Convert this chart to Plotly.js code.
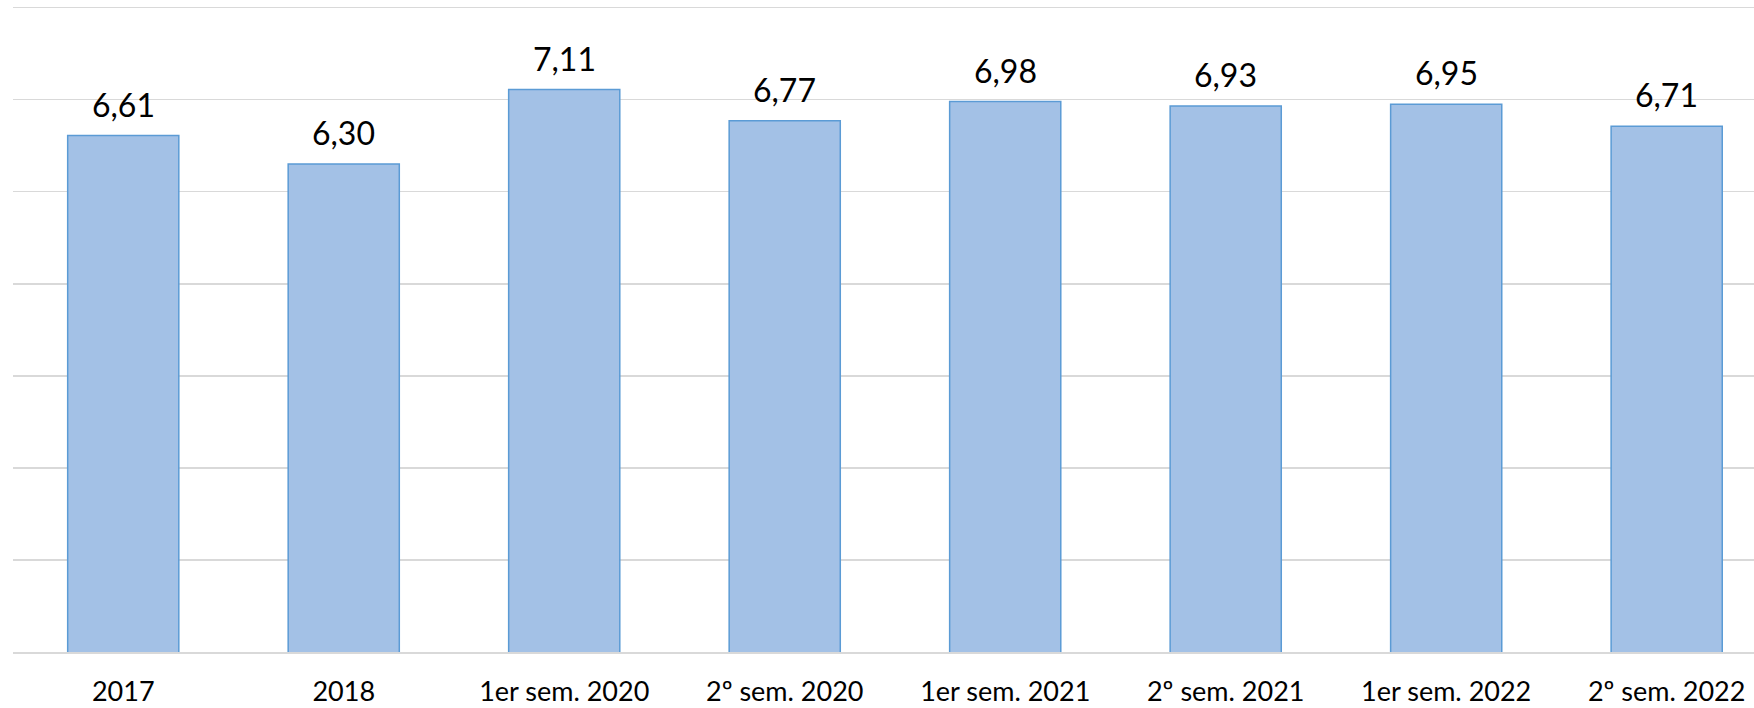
<!DOCTYPE html>
<html>
<head>
<meta charset="utf-8">
<script src="https://cdn.plot.ly/plotly-3.0.1.min.js"></script>
<style>
html,body{margin:0;padding:0;background:#fff;overflow:hidden;}
#chart{width:1754px;height:708px;}
</style>
</head>
<body>
<div id="chart"></div>
<script>
const categories = ["2017", "2018", "1er sem. 2020", "2º sem. 2020", "1er sem. 2021", "2º sem. 2021", "1er sem. 2022", "2º sem. 2022"];
const values = [6.61, 6.30, 7.11, 6.77, 6.98, 6.93, 6.95, 6.71];
const valueLabels = values.map(v => v.toFixed(2).replace('.', ','));

const trace = {
  type: 'bar',
  x: categories,
  y: values,
  marker: {
    color: '#A3C1E6',
    line: {color: '#5B9BD5', width: 1.5}
  },
  hoverinfo: 'skip'
};

const annotations = categories.map((c, i) => ({
  x: i, y: values[i], xref: 'x', yref: 'y',
  text: valueLabels[i], showarrow: false,
  yanchor: 'bottom', yshift: 10,
  font: {family: 'Lato, sans-serif', size: 32, color: '#000'}
}));

const layout = {
  width: 1754, height: 708,
  margin: {l: 13, r: 0, t: 3, b: 56},
  paper_bgcolor: '#fff', plot_bgcolor: '#fff',
  showlegend: false,
  bargap: 0.496,
  xaxis: {
    type: 'category',
    range: [-0.5, 7.396],
    showgrid: false, zeroline: false,
    showline: true, linecolor: '#D9D9D9', linewidth: 1.5,
    ticks: 'outside', ticklen: 15, tickcolor: 'rgba(0,0,0,0)',
    tickfont: {family: 'Lato, sans-serif', size: 27, color: '#000'}
  },
  yaxis: {
    range: [1, 8.05],
    dtick: 1, tick0: 0,
    showgrid: true, gridcolor: '#D9D9D9', gridwidth: 1.5,
    zeroline: false, showticklabels: false, ticks: ''
  },
  annotations: annotations
};

Plotly.newPlot('chart', [trace], layout, {displayModeBar: false, staticPlot: true});
</script>
</body>
</html>
